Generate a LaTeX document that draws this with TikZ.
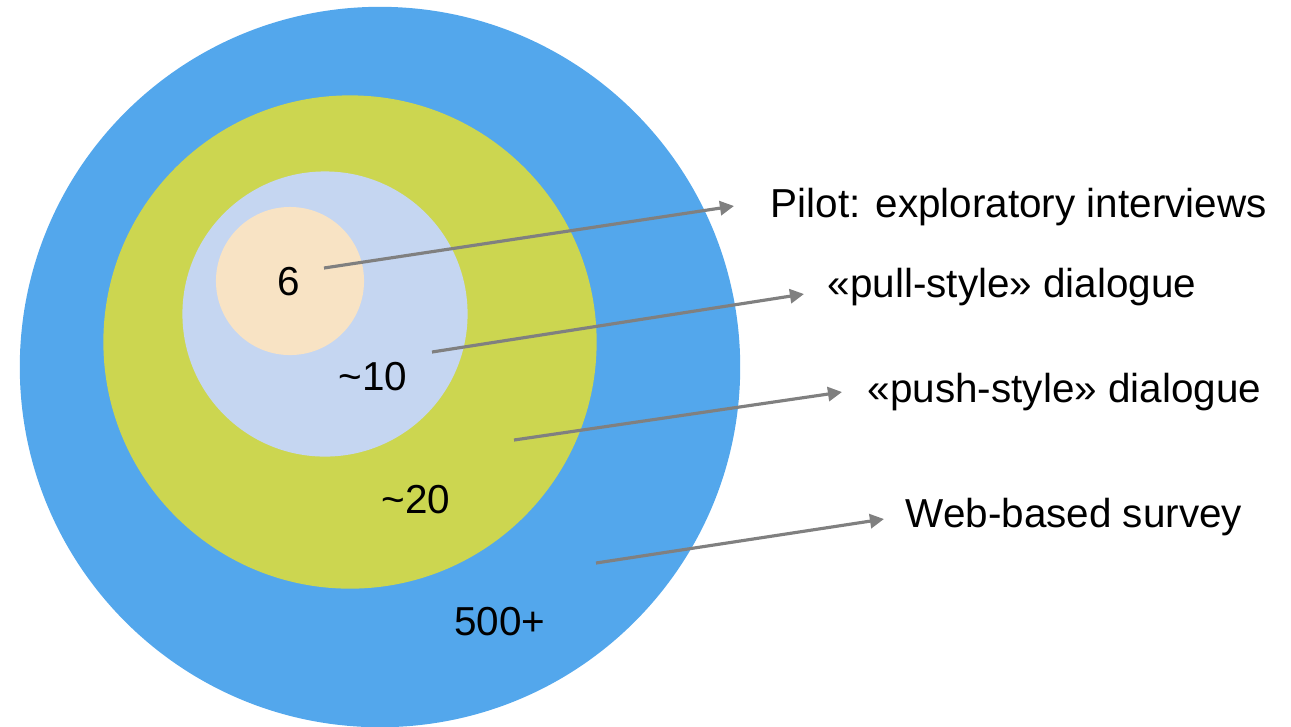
\documentclass[tikz,border=0pt]{standalone}
\usepackage{fontspec}
\setmainfont{Liberation Sans}
\usetikzlibrary{arrows.meta}
\definecolor{ringblue}{RGB}{83,167,236}
\definecolor{ringgreen}{RGB}{204,214,80}
\definecolor{ringsky}{RGB}{197,214,241}
\definecolor{ringsand}{RGB}{248,227,196}
\definecolor{pointergray}{RGB}{128,128,128}
\begin{document}
\begin{tikzpicture}[
        x=0.01cm, y=-0.01cm,
        disc/.style={circle, inner sep=0pt, draw=none},
        count/.style={anchor=base, inner sep=0pt, font=\fontsize{11.5}{14}\selectfont},
        group/.style={anchor=base west, inner sep=0pt, font=\fontsize{11.5}{14}\selectfont},
        pointer/.style={-{Triangle[length=4pt,width=4pt]}, draw=pointergray, fill=pointergray, line width=0.9pt}
    ]
        \useasboundingbox (0,0) rectangle (1291,726);

        % Rings
        \node[disc, fill=ringblue, minimum size=7.2cm] (survey) at (380,367) {};
        \node[disc, fill=ringgreen, minimum size=4.93cm] (push) at (350,342) {};
        \node[disc, fill=ringsky, minimum size=2.85cm] (pull) at (325,314) {};
        \node[disc, fill=ringsand, minimum size=1.48cm] (pilot) at (290,281) {};

        % Counts
        \node[count] (n6) at (289,295) {6};
        \node[count] (n10) at (373,390) {\textasciitilde 10};
        \node[count] (n20) at (416,513) {\textasciitilde 20};
        \node[count] (n500) at (500,635) {500+};

        % Descriptions
        \node[group] (tpilot) at (770,217) {Pilot: exploratory interviews};
        \node[group] (tpull) at (827,297) {«pull-style» dialogue};
        \node[group] (tpush) at (867,402) {«push-style» dialogue};
        \node[group] (tweb) at (905,527) {Web-based survey};

        % Arrow ends
        \coordinate (s1) at (324,268);
        \coordinate (e1) at (734,206);
        \coordinate (s2) at (432,352);
        \coordinate (e2) at (804,294);
        \coordinate (s3) at (514,440);
        \coordinate (e3) at (842,392);
        \coordinate (s4) at (596,563);
        \coordinate (e4) at (884,519);

        % Arrows
        \draw[pointer] (s1) -- (e1);
        \draw[pointer] (s2) -- (e2);
        \draw[pointer] (s3) -- (e3);
        \draw[pointer] (s4) -- (e4);
    \end{tikzpicture}
\end{document}
